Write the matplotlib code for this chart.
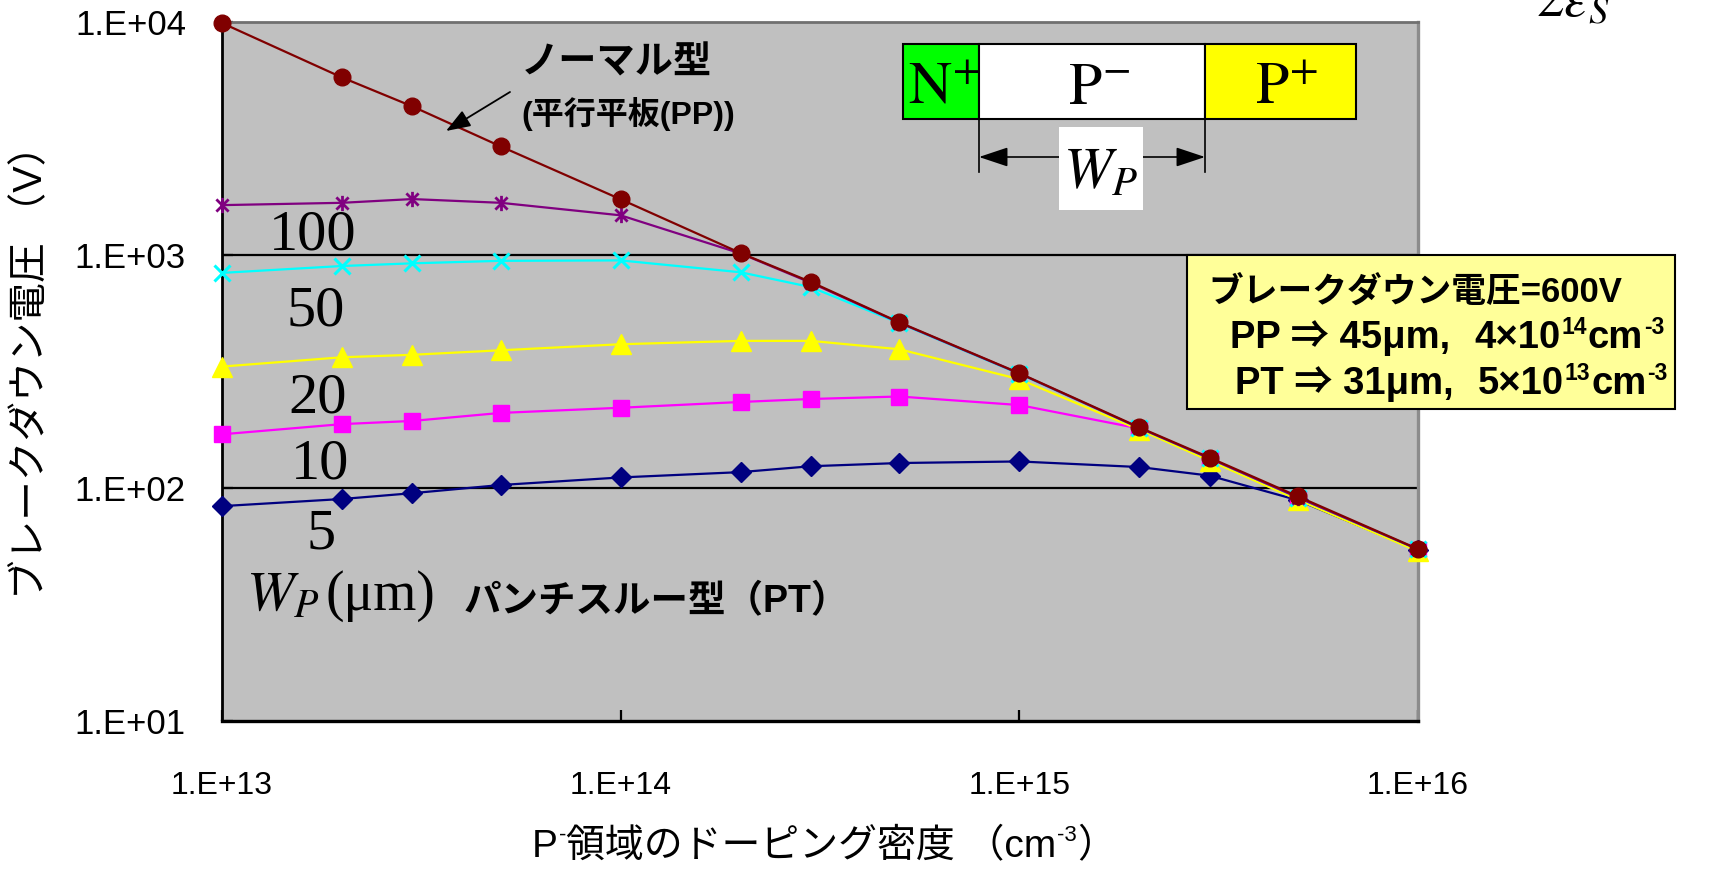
import matplotlib
matplotlib.use("Agg")
import matplotlib.pyplot as plt
from matplotlib import transforms as mtransforms
from matplotlib.patches import Rectangle, FancyArrowPatch
from matplotlib.lines import Line2D
from matplotlib.path import Path
from matplotlib.ticker import FixedLocator, FixedFormatter, NullLocator

# ---- data -------------------------------------------------------------
doping = [1e13, 2e13, 3e13, 5e13, 1e14, 2e14, 3e14, 5e14, 1e15, 2e15, 3e15, 5e15, 1e16]

bv_pp = [9900, 5780, 4345, 2925, 1734, 1019, 766, 514, 311, 182, 135, 92, 54.7]
bv_w100 = [1637, 1675, 1738, 1675, 1480, 1015, 760, 512, 310, 181, 134, 91, 54.5]
bv_w50 = [838, 897, 921, 944, 948, 843, 728, 510, 309, 181, 134, 91, 54.5]
bv_w20 = [332, 364, 373, 390, 414, 428, 428, 394, 293, 178, 131, 89, 53.5]
bv_w10 = [170, 188, 194, 210, 221, 234, 241, 247, 227, 180, 133, 90, 54]
bv_w5 = [83.6, 89.7, 95, 103, 111, 117, 124, 128, 130, 123, 113, 88.6, 54]

width_labels = ["5", "10", "20", "50", "100"]

x_ticks = [1e13, 1e14, 1e15, 1e16]
x_tick_labels = ["1.E+13", "1.E+14", "1.E+15", "1.E+16"]
y_ticks = [1e1, 1e2, 1e3, 1e4]
y_tick_labels = ["1.E+01", "1.E+02", "1.E+03", "1.E+04"]
grid_levels = [1e2, 1e3]

# ---- figure -----------------------------------------------------------
W, H = 1713, 872
fig = plt.figure(figsize=(W / 100, H / 100), dpi=100)
fig.patch.set_facecolor("white")
# pixel coordinates measured from the top-left corner
PX = mtransforms.Affine2D().scale(1 / W, -1 / H).translate(0, 1) + fig.transFigure

ax_l, ax_r, ax_t, ax_b = 222, 1418, 22, 721
ax = fig.add_axes([ax_l / W, 1 - ax_b / H, (ax_r - ax_l) / W, (ax_b - ax_t) / H])
ax.set_facecolor("#C0C0C0")
ax.set_xscale("log")
ax.set_yscale("log")
ax.set_xlim(1e13, 1e16)
ax.set_ylim(10, 1e4)

for lvl in grid_levels:
    ax.axhline(lvl, color="black", lw=1.6, zorder=1)

asterisk = Path([(-1, -1), (1, 1), (-1, 1), (1, -1), (0, -1.25), (0, 1.25)],
                [Path.MOVETO, Path.LINETO, Path.MOVETO, Path.LINETO, Path.MOVETO, Path.LINETO])

series = [
    (bv_w5, dict(color="#000080", marker="D", ms=10.5)),
    (bv_w10, dict(color="#FF00FF", marker="s", ms=11.5)),
    (bv_w20, dict(color="#FFFF00", marker="^", ms=14.5)),
    (bv_w50, dict(color="#00FFFF", marker="x", ms=11, mew=2.2)),
    (bv_w100, dict(color="#800080", marker=asterisk, ms=11, mew=2.0)),
    (bv_pp, dict(color="#800000", marker="o", ms=12)),
]
for vals, st in series:
    ax.plot(doping, vals, lw=1.6, clip_on=False, zorder=3, **st)

ax.xaxis.set_major_locator(FixedLocator(x_ticks))
ax.xaxis.set_major_formatter(FixedFormatter(x_tick_labels))
ax.yaxis.set_major_locator(FixedLocator(y_ticks))
ax.yaxis.set_major_formatter(FixedFormatter(y_tick_labels))
ax.xaxis.set_minor_locator(NullLocator())
ax.yaxis.set_minor_locator(NullLocator())
ax.tick_params(axis="both", direction="in", length=8, width=1.6, color="black",
               top=False, right=False)
ax.tick_params(axis="x", pad=36, labelsize=23)
ax.tick_params(axis="y", pad=26, labelsize=25)
for lab in ax.get_xticklabels() + ax.get_yticklabels():
    lab.set_family("Liberation Sans")

ax.spines["left"].set_color("black")
ax.spines["bottom"].set_color("black")
ax.spines["left"].set_linewidth(2)
ax.spines["bottom"].set_linewidth(2.4)
ax.spines["top"].set_color("#707070")
ax.spines["top"].set_linewidth(2)
ax.spines["right"].set_color("#8C8C8C")
ax.spines["right"].set_linewidth(2.4)

renderer = fig.canvas.get_renderer()


def text_runs(x, y, runs, ha="left"):
    """Lay out a row of differently styled strings along one baseline (pixel coords)."""
    placed = []
    for run in runs:
        s, props = run[0], run[1]
        dy = run[2] if len(run) > 2 else 0
        gap = run[3] if len(run) > 3 else 0
        t = fig.text(x, y, s, transform=PX, ha="left", va="baseline", **props)
        w = t.get_window_extent(renderer).width
        placed.append((t, dy, gap, w))
    total = sum(w + g for _, _, g, w in placed)
    off = {"left": 0, "center": -total / 2, "right": -total}[ha]
    for t, dy, gap, w in placed:
        off += gap
        t.set_transform(PX + mtransforms.Affine2D().translate(off, dy))
        off += w


jp = ["Liberation Sans", "Noto Sans CJK JP"]
jp_bold = dict(family=jp, weight="bold")

# axis titles
fig.text(31, 362, "ブレークダウン電圧 （V）", transform=PX, rotation=90,
         ha="center", va="center", fontsize=28.5, family=jp)
xl = dict(family=jp, fontsize=28)
xl_sup = dict(family=jp, fontsize=16)
text_runs(824, 857, [("P", xl), ("-", xl_sup, 16, 1), ("領域のドーピング密度 （cm", xl),
                     ("-3", xl_sup, 16, 1), ("）", xl)], ha="center")

# normal (parallel plane) annotation
fig.text(521, 73, "ノーマル型", transform=PX, fontsize=27.5, va="baseline", **jp_bold)
fig.text(521, 124, "(平行平板(PP))", transform=PX, fontsize=23, va="baseline", **jp_bold)
fig.patches.append(FancyArrowPatch((510, 92), (446, 131), transform=PX,
                                   arrowstyle="-|>,head_length=1.5,head_width=0.55",
                                   mutation_scale=10, color="black", lw=1.3,
                                   shrinkA=0, shrinkB=0))

# W_P labels next to the punch-through curves
serif = dict(family="Liberation Serif", fontsize=42)
label_pos = [(321, 548), (320, 478), (318, 412), (316, 325), (313, 249)]
for lab, (lx, ly) in zip(width_labels, label_pos):
    fig.text(lx, ly, lab, transform=PX, ha="center", va="baseline", **serif)

text_runs(246, 610, [("$W_P$", dict(fontsize=41, math_fontfamily="stix")),
                     ("(μm)", dict(family="Liberation Serif", fontsize=40), 0, 6)])
fig.text(464, 612, "パンチスルー型（PT）", transform=PX, fontsize=27, va="baseline", **jp_bold)

# N+ / P- / P+ structure sketch
for x0, x1, fc in [(903, 979, "#00FF00"), (979, 1205, "white"), (1205, 1356, "#FFFF00")]:
    fig.patches.append(Rectangle((x0, 44), x1 - x0, 75, transform=PX, facecolor=fc,
                                 edgecolor="black", lw=1.5))
stix = dict(math_fontfamily="stix", fontsize=43, va="baseline", ha="left")
fig.text(908, 104, r"$\mathrm{N}^{+}$", transform=PX, **stix)
fig.text(1068, 104, r"$\mathrm{P}^{-}$", transform=PX, **stix)
fig.text(1255, 104, r"$\mathrm{P}^{+}$", transform=PX, **stix)
for xv in (979, 1205):
    fig.lines.append(Line2D([xv, xv], [119, 172], transform=PX, color="black", lw=1.2))
fig.patches.append(FancyArrowPatch((979, 157), (1205, 157), transform=PX,
                                   arrowstyle="<|-|>,head_length=1.8,head_width=0.6",
                                   mutation_scale=10, color="black", lw=1.2,
                                   shrinkA=0, shrinkB=0))
fig.patches.append(Rectangle((1059, 127), 84, 83, transform=PX, facecolor="white",
                             edgecolor="none"))
fig.text(1063, 188, r"$W_P$", transform=PX, math_fontfamily="stix", fontsize=42,
         va="baseline", ha="left")

# 600 V design note
fig.patches.append(Rectangle((1187, 255), 488, 154, transform=PX, facecolor="#FFFF99",
                             edgecolor="black", lw=1.5))
nb1 = dict(family=jp, weight="bold", fontsize=25)
nb = dict(family=jp, weight="bold", fontsize=27.5)
ns = dict(family=jp, weight="bold", fontsize=16.5)
text_runs(1208, 302, [("ブレークダウン電圧=600V", nb1)])
text_runs(1230, 348, [("PP ⇒ 45μm,", nb), ("4×10", nb, 0, 24), ("14", ns, 14, 1),
                      ("cm", nb, 0, 1), ("-3", ns, 14, 1)])
text_runs(1235, 394, [("PT ⇒ 31μm,", nb), ("5×10", nb, 0, 24), ("13", ns, 14, 1),
                      ("cm", nb, 0, 1), ("-3", ns, 14, 1)])

# formula fragment at the top edge
fig.text(1536, 16, r"$\mathit{2}\varepsilon_S$", transform=PX, math_fontfamily="stix",
         fontsize=40, va="baseline", ha="left")

fig.savefig("out.png", dpi=100, facecolor="white")
